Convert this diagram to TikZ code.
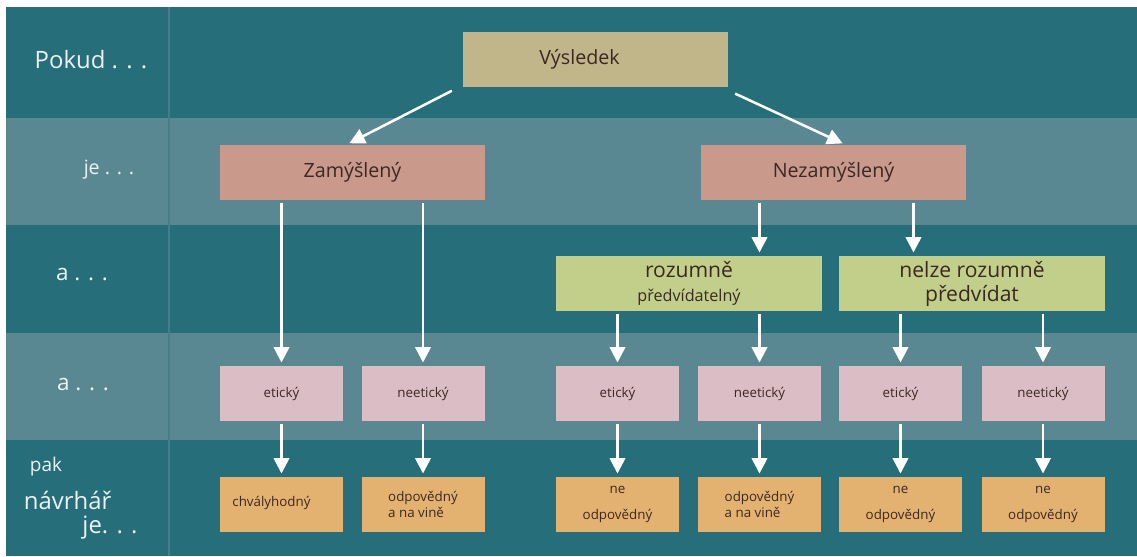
\documentclass[tikz,border=0pt]{standalone}
\usepackage{fontspec}
\setmainfont{Open Sans}
\usetikzlibrary{arrows.meta}

\definecolor{tealdark}{RGB}{38,110,122}
\definecolor{teallight}{RGB}{90,136,146}
\definecolor{boxtan}{RGB}{192,182,138}
\definecolor{boxsalmon}{RGB}{201,153,140}
\definecolor{boxgreen}{RGB}{194,207,138}
\definecolor{boxpink}{RGB}{219,189,197}
\definecolor{boxorange}{RGB}{228,178,112}
\definecolor{boxtext}{RGB}{60,40,35}
\definecolor{labeltext}{RGB}{236,242,243}

\tikzset{global scale/.style={
    	scale=#1,
    	every node/.append style={scale=#1}
  	}
}
\tikzset{
  box/.style={inner sep=0pt, minimum height=1.375cm, text=boxtext, align=center},
  bigbox/.style={box, minimum width=6.625cm, font=\fontsize{14}{17}\selectfont},
  greenbox/.style={box, fill=boxgreen, minimum width=6.65cm, font=\fontsize{15}{17}\selectfont},
  smallbox/.style={box, minimum width=3.075cm, font=\fontsize{9.5}{11}\selectfont},
  rowlabel/.style={text=labeltext, inner sep=0pt},
  arr/.style={white, line width=1.8pt, -{Triangle[length=11pt,width=11pt]},
    shorten <=0.08cm, shorten >=0.08cm}
}

\begin{document}
\begin{tikzpicture}[global scale = 1]
  \useasboundingbox (0,0) rectangle (28.425,-13.9);
  % rows of the table
  \foreach \ya/\yb/\col in {0.175/2.95/tealdark, 2.95/5.625/teallight, 5.625/8.325/tealdark,
      8.325/11.0/teallight, 11.0/13.9/tealdark}
    \fill[\col] (0.15,-\ya) rectangle (28.425,-\yb);
  \draw[teallight!60!tealdark, line width=1.5pt] (4.225,-0.175) -- (4.225,-13.9);

  % row labels
  \node[rowlabel, font=\fontsize{17}{20}\selectfont] (pokud) at (2.275,-1.5) {Pokud . . .};
  \node[rowlabel, font=\fontsize{14}{17}\selectfont] (je) at (2.725,-4.25) {je . . .};
  \node[rowlabel, font=\fontsize{16}{19}\selectfont] (a1) at (2.05,-6.875) {a . . .};
  \node[rowlabel, font=\fontsize{16}{19}\selectfont] (a2) at (2.075,-9.625) {a . . .};
  \node[rowlabel, font=\fontsize{13.5}{16}\selectfont] (pak) at (1.15,-11.675) {pak};
  \node[rowlabel, font=\fontsize{17}{20}\selectfont] (navrhar) at (1.69,-12.5) {návrhář};
  \node[rowlabel, font=\fontsize{17}{20}\selectfont] (je2) at (2.75,-13.2) {je. . .};

  % boxes
  \node[bigbox, fill=boxtan] (vys) at (14.8875,-1.4875) {Výsledek\hspace{0.8cm}};
  \node[bigbox, fill=boxsalmon] (zam) at (8.8125,-4.3125) {Zamýšlený};
  \node[bigbox, fill=boxsalmon] (nez) at (20.8375,-4.3125) {Nezamýšlený};
  \node[greenbox] (roz) at (17.225,-7.0875)
    {rozumně\\{\fontsize{11.5}{14}\selectfont předvídatelný}};
  \node[greenbox] (nel) at (24.3,-7.0875) {nelze rozumně\\předvídat};

  \foreach \x/\nm/\txt in {7.0375/e1/etický, 10.575/n1/neetický, 15.4375/e2/etický,
      18.9875/n2/neetický, 22.5125/e3/etický, 26.075/n3/neetický}
    \node[smallbox, fill=boxpink] (\nm) at (\x,-9.8375) {\txt};

  \node[smallbox, fill=boxorange] (v1) at (7.0375,-12.6125) {\raisebox{0.15cm}{chvályhodný}\hspace{0.5cm}};
  \node[smallbox, fill=boxorange, align=left] (v2) at (10.575,-12.6125) {odpovědný\\a na vině\hspace{0.4cm}};
  \node[smallbox, fill=boxorange, font=\fontsize{9.5}{18.5}\selectfont] (v3) at (15.4375,-12.6125) {ne\\odpovědný};
  \node[smallbox, fill=boxorange, align=left] (v4) at (18.9875,-12.6125) {odpovědný\\a na vině\hspace{0.4cm}};
  \node[smallbox, fill=boxorange, font=\fontsize{9.5}{18.5}\selectfont] (v5) at (22.5125,-12.6125) {ne\\odpovědný};
  \node[smallbox, fill=boxorange, font=\fontsize{9.5}{18.5}\selectfont] (v6) at (26.075,-12.6125) {ne\\odpovědný};

  % arrows
  \draw[arr] ([xshift=-0.2cm,yshift=-0.05cm]vys.south west) -- ([xshift=-0.15cm]zam.north);
  \draw[arr] ([xshift=0.1cm,yshift=-0.125cm]vys.south east) -- ([xshift=0.3cm]nez.north);
  \draw[arr] (zam.south -| e1) -- (e1);
  \draw[arr] (zam.south -| n1) -- (n1);
  \draw[arr] (nez.south -| n2) -- (roz.north -| n2);
  \draw[arr] ([xshift=2cm]nez.south) -- ([xshift=2cm]nez.south |- nel.north);
  \draw[arr] (roz.south -| e2) -- (e2);
  \draw[arr] (roz.south -| n2) -- (n2);
  \draw[arr] (nel.south -| e3) -- (e3);
  \draw[arr] (nel.south -| n3) -- (n3);
  \foreach \a/\b in {e1/v1, n1/v2, e2/v3, n2/v4, e3/v5, n3/v6}
    \draw[arr] (\a) -- (\b);
\end{tikzpicture}
\end{document}
